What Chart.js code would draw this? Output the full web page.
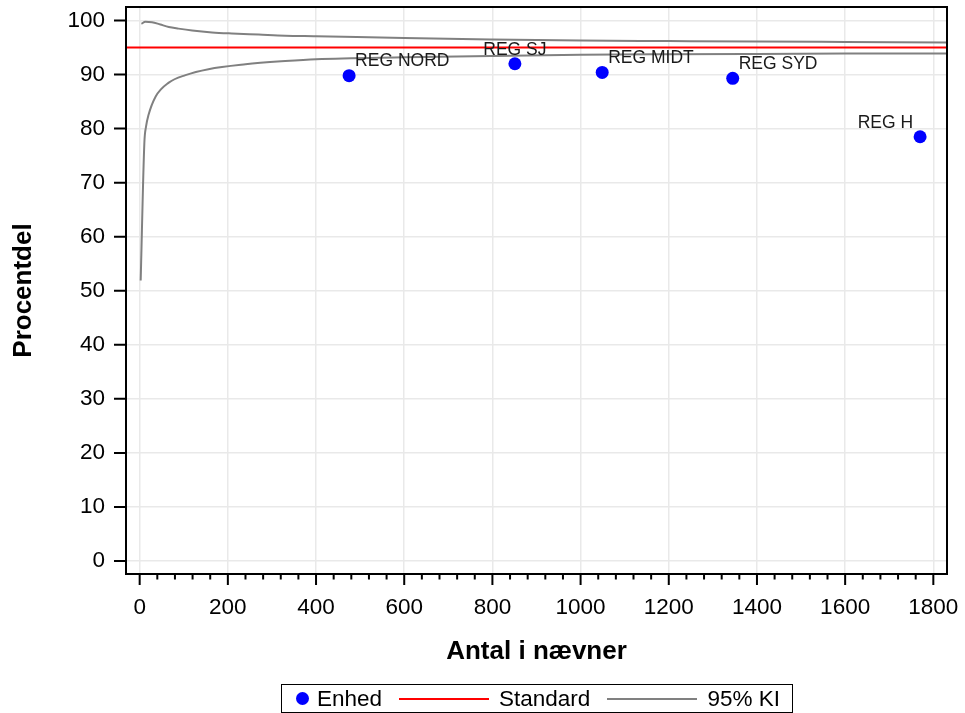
<!DOCTYPE html>
<html>
<head>
<meta charset="utf-8">
<script src="https://cdn.jsdelivr.net/npm/chart.js@4"></script>
<style>
    body { margin: 0; background: #fff; font-family: "Liberation Sans", Arial, sans-serif; }
    #wrap { position: relative; width: 965px; height: 713px; }
    #legend {
        position: absolute; left: 281px; top: 684px; width: 512px; height: 29px;
        border: 1.5px solid #000; box-sizing: border-box;
        display: flex; align-items: center; font-size: 22.5px; color: #000; white-space: nowrap;
    }
    #legend .dot { width: 13px; height: 13px; border-radius: 50%; background: #0000ff; margin: 0 8px 0 14px; }
    #legend .line { width: 90px; height: 0; border-top: 2px solid; margin: 0 10px 0 17px; }
</style>
</head>
<body>
<div id="wrap">
    <canvas id="funnelChart" width="965" height="713"></canvas>
    <div id="legend">
        <span class="dot"></span><span>Enhed</span>
        <span class="line" style="border-color:#ff0000"></span><span>Standard</span>
        <span class="line" style="border-color:#808080"></span><span>95% KI</span>
    </div>
</div>
<script>
// data
const regions = ['REG NORD', 'REG SJ', 'REG MIDT', 'REG SYD', 'REG H'];
const regionN = [475, 851, 1049, 1345, 1770];
const regionPct = [89.8, 92.0, 90.4, 89.3, 78.5];

const standardPct = 95;

const upperN = [3.9, 13, 28, 47, 66, 88, 119, 164, 209, 270, 330, 400, 600, 800, 1000, 1200, 1400, 1600, 1831];
const upperPct = [99.4, 99.75, 99.7, 99.25, 98.8, 98.5, 98.15, 97.8, 97.6, 97.4, 97.2, 97.1, 96.75, 96.5, 96.3, 96.2, 96.1, 96.03, 95.95];
const lowerN = [2.3, 10.6, 14.5, 20, 36, 66, 104, 156, 240, 330, 400, 600, 800, 1000, 1200, 1400, 1600, 1831];
const lowerPct = [51.9, 77.3, 80.4, 82.5, 85.9, 88.5, 89.9, 91.0, 91.9, 92.5, 92.85, 93.2, 93.45, 93.65, 93.75, 93.82, 93.88, 93.92];

const xTicks = [0, 200, 400, 600, 800, 1000, 1200, 1400, 1600, 1800];
const yTicks = [0, 10, 20, 30, 40, 50, 60, 70, 80, 90, 100];
const xMin = -31, xMax = 1831;
const yMin = -2.4, yMax = 102.5;

// which side of the dot each label sits on
const labelSide = ['right', 'center', 'right', 'right', 'left'];

const FONT = '"Liberation Sans", Arial, sans-serif';

function toPoints(xs, ys) {
    return xs.map((v, i) => ({ x: v, y: ys[i] }));
}

const pointLabels = {
    id: 'pointLabels',
    afterDatasetsDraw(chart) {
        const ctx = chart.ctx;
        const meta = chart.getDatasetMeta(0);
        ctx.save();
        ctx.font = '17.5px ' + FONT;
        ctx.fillStyle = '#1a1a1a';
        ctx.textBaseline = 'middle';
        meta.data.forEach((pt, i) => {
            const side = labelSide[i];
            let tx = pt.x;
            if (side === 'right') { ctx.textAlign = 'left'; tx = pt.x + 6; }
            else if (side === 'left') { ctx.textAlign = 'right'; tx = pt.x - 7; }
            else { ctx.textAlign = 'center'; }
            ctx.fillText(regions[i], tx, pt.y - 14);
        });
        ctx.restore();
    }
};

const frameAndTicks = {
    id: 'frameAndTicks',
    afterDraw(chart) {
        const { ctx, chartArea: a, scales: { x, y } } = chart;
        ctx.save();
        ctx.strokeStyle = '#000';
        ctx.lineWidth = 2;
        ctx.beginPath();
        yTicks.forEach(v => {
            const py = y.getPixelForValue(v);
            ctx.moveTo(a.left - 12, py);
            ctx.lineTo(a.left, py);
        });
        // major ticks every 200, minor every 40
        for (let v = 0; v <= x.max; v += 40) {
            const px = x.getPixelForValue(v);
            ctx.moveTo(px, a.bottom);
            ctx.lineTo(px, a.bottom + (v % 200 === 0 ? 11 : 5.5));
        }
        ctx.stroke();
        ctx.strokeRect(a.left, a.top, a.right - a.left, a.bottom - a.top);
        ctx.restore();
    }
};

new Chart(document.getElementById('funnelChart').getContext('2d'), {
    type: 'scatter',
    data: {
        datasets: [
            {
                label: 'Enhed',
                data: toPoints(regionN, regionPct),
                backgroundColor: '#0000ff',
                borderWidth: 0,
                pointRadius: 6.5,
                order: 0
            },
            {
                label: 'Standard',
                data: [{ x: xMin, y: standardPct }, { x: xMax, y: standardPct }],
                showLine: true,
                borderColor: '#ff0000',
                borderWidth: 2,
                pointRadius: 0,
                order: 1
            },
            {
                label: '95% KI',
                data: toPoints(upperN, upperPct),
                showLine: true,
                borderColor: '#808080',
                borderWidth: 2,
                pointRadius: 0,
                cubicInterpolationMode: 'monotone',
                order: 2
            },
            {
                label: '95% KI nedre',
                data: toPoints(lowerN, lowerPct),
                showLine: true,
                borderColor: '#808080',
                borderWidth: 2,
                pointRadius: 0,
                cubicInterpolationMode: 'monotone',
                order: 2
            }
        ]
    },
    options: {
        responsive: false,
        devicePixelRatio: 1,
        animation: false,
        layout: { padding: { top: 7, right: 18, bottom: 45, left: 0 } },
        plugins: { legend: { display: false }, tooltip: { enabled: false } },
        scales: {
            x: {
                type: 'linear',
                min: xMin,
                max: xMax,
                afterBuildTicks: s => { s.ticks = xTicks.map(v => ({ value: v })); },
                afterFit: s => { s.height = 94; s.paddingLeft = 0; s.paddingRight = 0; },
                grid: { color: '#e9e9e9', lineWidth: 1.5, drawTicks: false },
                border: { display: false },
                ticks: {
                    font: { size: 22.5, family: FONT }, color: '#000', padding: 20, maxRotation: 0,
                    callback: v => String(v)
                },
                title: {
                    display: true,
                    text: 'Antal i nævner',
                    font: { size: 26, weight: 'bold', family: FONT },
                    color: '#000',
                    padding: { top: 0, bottom: 1 }
                }
            },
            y: {
                min: yMin,
                max: yMax,
                afterBuildTicks: s => { s.ticks = yTicks.map(v => ({ value: v })); },
                afterFit: s => { s.width = 126; s.paddingTop = 0; s.paddingBottom = 0; },
                grid: { color: '#e9e9e9', lineWidth: 1.5, drawTicks: false },
                border: { display: false },
                ticks: {
                    font: { size: 22.5, family: FONT }, color: '#000', padding: 21,
                    callback: v => String(v)
                },
                title: {
                    display: true,
                    text: 'Procentdel',
                    font: { size: 26, weight: 'bold', family: FONT },
                    color: '#000',
                    padding: { top: 8, bottom: 0 }
                }
            }
        }
    },
    plugins: [pointLabels, frameAndTicks]
});
</script>
</body>
</html>
